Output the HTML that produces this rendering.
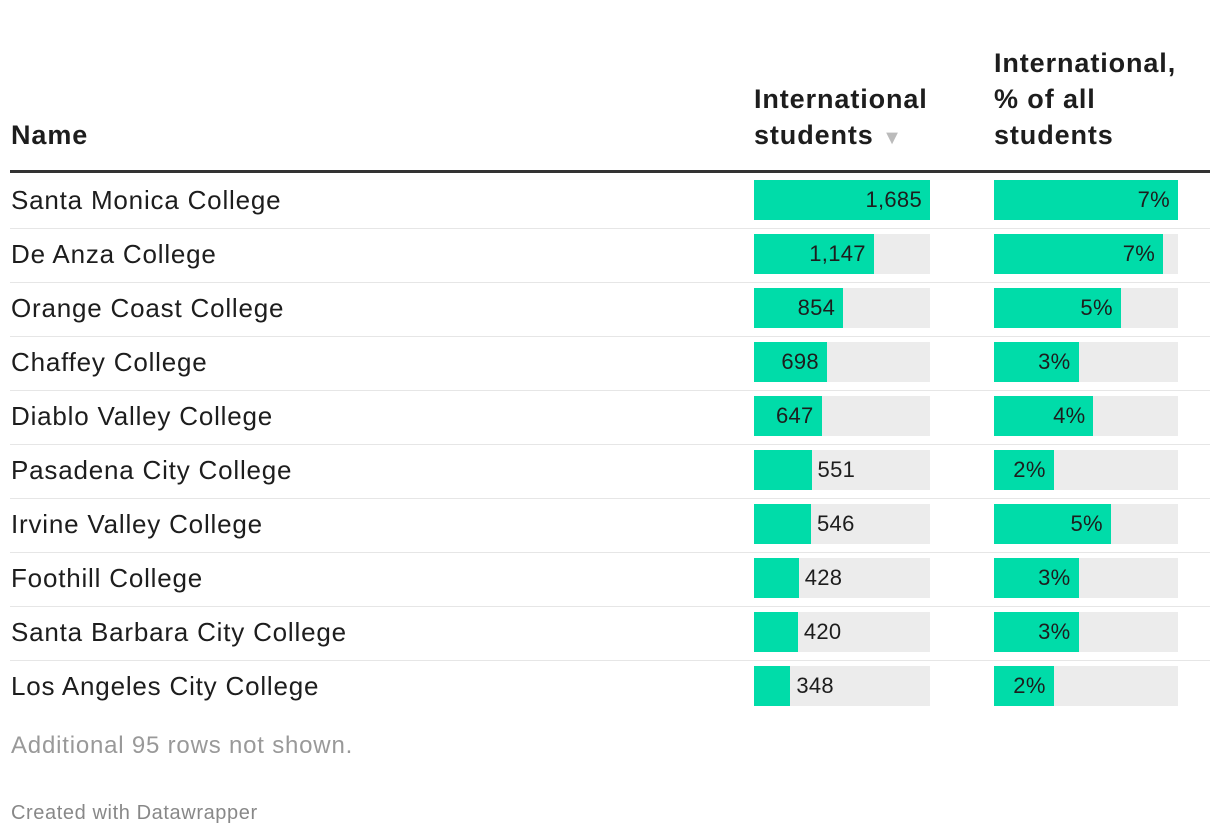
<!DOCTYPE html>
<html><head><meta charset="utf-8"><style>
body{margin:0;width:1220px;height:838px;background:#fff;font-family:"Liberation Sans",sans-serif;color:#1d1d1d;position:relative;overflow:hidden}
.h{position:absolute;font-weight:bold;font-size:27px;line-height:36px;letter-spacing:0.9px}
.row{position:absolute;left:10px;width:1200px;height:54px;border-bottom:1px solid #e6e6e6}
.row.last{border-bottom:none}
.name{position:absolute;left:1px;top:8px;font-size:26px;line-height:36px;letter-spacing:0.8px}
.bg{position:absolute;top:6px;height:40px;background:#ececec}
.bar{position:absolute;top:6px;height:40px;background:#00dca9}
.lbl{position:absolute;top:6px;line-height:40px;font-size:22px;white-space:nowrap;letter-spacing:0.3px}
</style></head><body>
<div class="h" style="left:11px;top:117px">Name</div>
<div class="h" style="left:754px;top:81px">International<br>students <span style="color:#bbb;font-size:20px">▼</span></div>
<div class="h" style="left:994px;top:45px">International,<br>% of all<br>students</div>
<div style="position:absolute;left:10px;top:170px;width:1200px;height:3px;background:#333"></div>
<div id="rows"></div>
<div style="position:absolute;left:11px;top:732px;font-size:24px;letter-spacing:0.8px;color:#999">Additional 95 rows not shown.</div>
<div style="position:absolute;left:11px;top:802px;font-size:20px;letter-spacing:0.6px;color:#888">Created with Datawrapper</div>
<script>
const names=["Santa Monica College","De Anza College","Orange Coast College","Chaffey College","Diablo Valley College","Pasadena City College","Irvine Valley College","Foothill College","Santa Barbara City College","Los Angeles City College"];
const students=[1685,1147,854,698,647,551,546,428,420,348];
const pct=[7.4,6.8,5.1,3.4,4.0,2.4,4.7,3.4,3.4,2.4];
const body=document.getElementById('rows');
const sMax=Math.max(...students),pMax=Math.max(...pct);
function sx(v){return v/sMax*176;}
function px(v){return v/pMax*184;}
names.forEach((n,i)=>{
  const r=document.createElement('div');r.className='row'+(i===names.length-1?' last':'');r.style.top=(174+i*54)+'px';
  
  
  let h='<div class="name">'+n+'</div>';
  const w1=sx(students[i]),t1=students[i].toLocaleString('en-US');
  h+='<div class="bg" style="left:744px;width:176px"></div>';
  h+='<div class="bar" style="left:744px;width:'+w1+'px"></div>';
  if(w1>t1.length*12+28) h+='<div class="lbl" style="right:'+(1200-744-w1+8)+'px">'+t1+'</div>';
  else h+='<div class="lbl" style="left:'+(744+w1+6)+'px">'+t1+'</div>';
  const w2=px(pct[i]),t2=Math.round(pct[i])+'%';
  h+='<div class="bg" style="left:984px;width:184px"></div>';
  h+='<div class="bar" style="left:984px;width:'+w2+'px"></div>';
  if(w2>45) h+='<div class="lbl" style="right:'+(1200-984-w2+8)+'px">'+t2+'</div>';
  else h+='<div class="lbl" style="left:'+(984+w2+6)+'px">'+t2+'</div>';
  r.innerHTML=h;body.appendChild(r);
});
</script>
</body></html>
